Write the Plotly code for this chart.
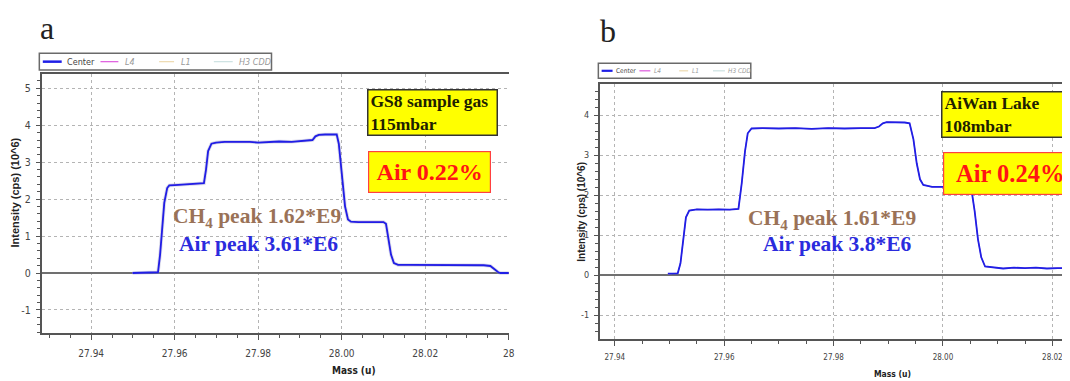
import plotly.graph_objects as go

# The page body adds an 8 px margin, so the figure is drawn 8 px smaller and
# all reference pixel positions are shifted by that offset.
REF_W, REF_H = 1070, 381
OFF = 8
W, H = REF_W - OFF, REF_H - OFF

# ---------------- data ----------------
# Panel a: GS8 sample gas, 115 mbar  (mass in u, intensity in 10^6 cps)
mass_a = [27.9499, 27.9560, 27.9565, 27.9575, 27.9582, 27.9587, 27.9600, 27.9620, 27.9640,
          27.9660, 27.9670, 27.9675, 27.9680, 27.9688, 27.9699, 27.9720, 27.9750, 27.9780,
          27.9800, 27.9820, 27.9850, 27.9880, 27.9910, 27.9930, 27.9937, 27.9945, 27.9960,
          27.9975, 27.9988, 27.9993, 28.0000, 28.0008, 28.0015, 28.0022, 28.0040, 28.0060,
          28.0080, 28.0100, 28.0106, 28.0112, 28.0118, 28.0125, 28.0135, 28.0160, 28.0200,
          28.0250, 28.0300, 28.0340, 28.0356, 28.0365, 28.0375, 28.0380, 28.0400]
center_a = [0.00, 0.02, 0.50, 1.90, 2.30, 2.37, 2.38, 2.39, 2.40,
            2.41, 2.43, 2.80, 3.30, 3.50, 3.53, 3.55, 3.56, 3.55,
            3.53, 3.55, 3.56, 3.55, 3.57, 3.60, 3.70, 3.74, 3.75,
            3.76, 3.75, 3.50, 2.60, 1.80, 1.45, 1.39, 1.38, 1.38,
            1.39, 1.38, 1.33, 0.90, 0.50, 0.27, 0.22, 0.22, 0.22,
            0.21, 0.22, 0.21, 0.19, 0.10, 0.02, 0.00, 0.00]

# Panel b: AiWan Lake, 108 mbar
mass_b = [27.9497, 27.9515, 27.9520, 27.9525, 27.9530, 27.9536, 27.9550, 27.9570, 27.9590,
          27.9610, 27.9626, 27.9632, 27.9638, 27.9643, 27.9650, 27.9670, 27.9700, 27.9730,
          27.9760, 27.9790, 27.9820, 27.9850, 27.9875, 27.9883, 27.9890, 27.9897, 27.9915,
          27.9930, 27.9939, 27.9946, 27.9952, 27.9958, 27.9964, 27.9980, 28.0000, 28.0020,
          28.0040, 28.0052, 28.0058, 28.0064, 28.0070, 28.0077, 28.0090, 28.0110, 28.0130,
          28.0150, 28.0170, 28.0190, 28.0210, 28.0222]
center_b = [0.04, 0.05, 0.30, 0.90, 1.45, 1.62, 1.65, 1.64, 1.65,
            1.64, 1.66, 2.30, 3.10, 3.55, 3.67, 3.68, 3.67, 3.68,
            3.66, 3.68, 3.67, 3.68, 3.68, 3.72, 3.80, 3.83, 3.83,
            3.82, 3.80, 3.40, 2.80, 2.40, 2.26, 2.21, 2.21, 2.20,
            2.20, 2.15, 1.60, 0.90, 0.45, 0.22, 0.20, 0.17, 0.19,
            0.18, 0.19, 0.17, 0.18, 0.18]

series_names = ["Center", "L4", "L1", "H3 CDD"]
series_colors = ["#1f1fe6", "#e066e0", "#eedcb4", "#cfe3e3"]

x_tick_vals_a = [27.94, 27.96, 27.98, 28.00, 28.02, 28.04]
x_tick_text_a = ["27.94", "27.96", "27.98", "28.00", "28.02", "28"]
x_tick_vals_b = [27.94, 27.96, 27.98, 28.00, 28.02]
x_tick_text_b = ["27.94", "27.96", "27.98", "28.00", "28.02"]
y_tick_vals_a = [-1, 0, 1, 2, 3, 4, 5]
y_tick_vals_b = [-1, 0, 1, 2, 3, 4]

labels_a = {"sample": "GS8 sample gas<br>115mbar", "air": "Air 0.22%",
            "ch4": "CH<sub>4</sub> peak 1.62*E9", "airpeak": "Air peak 3.61*E6"}
labels_b = {"sample": "AiWan Lake<br>108mbar", "air": "Air 0.24%",
            "ch4": "CH<sub>4</sub> peak 1.61*E9", "airpeak": "Air peak 3.8*E6"}

# ---------------- helpers ----------------
def px(x):
    return (x - OFF) / W

def py(y):
    return 1 - (y - OFF) / H

SERIF = "Liberation Serif, Times New Roman, serif"
NARROW = "Liberation Sans Narrow, DejaVu Sans Condensed, Liberation Sans, Arial, sans-serif"
SANS = "Liberation Sans, Arial, sans-serif"

fig = go.Figure()

def add_panel(mass, center, xa, ya, halo):
    if halo:
        fig.add_trace(go.Scatter(x=mass, y=center, mode="lines", xaxis=xa, yaxis=ya,
                                 line=dict(color="rgba(150,150,195,0.35)", width=3.5),
                                 showlegend=False, hoverinfo="skip"))
    for name, col in zip(series_names[1:][::-1], series_colors[1:][::-1]):
        fig.add_trace(go.Scatter(x=mass, y=center, mode="lines", name=name, xaxis=xa, yaxis=ya,
                                 line=dict(color=col, width=1), showlegend=False))
    fig.add_trace(go.Scatter(x=mass, y=center, mode="lines", name=series_names[0], xaxis=xa,
                             yaxis=ya, line=dict(color=series_colors[0], width=1.8),
                             showlegend=False))

add_panel(mass_a, center_a, "x", "y", True)
add_panel(mass_b, center_b, "x2", "y2", False)

AX = "#555555"
GRID = "#b4b4b4"

def xaxis_cfg(domain, rng, vals, texts, anchor, size):
    return dict(domain=domain, range=rng, anchor=anchor, tickmode="array", tickvals=vals,
                ticktext=texts, showline=True, linecolor=AX, linewidth=1.5, mirror=True,
                ticks="outside", ticklen=5, tickcolor=AX, tickwidth=1.2,
                ticklabelstandoff=5,
                tickfont=dict(family=NARROW, size=size, color="#444"),
                showgrid=True, gridcolor=GRID, griddash="dot", gridwidth=1, zeroline=False,
                minor=dict(dtick=0.005, tick0=27.94, ticks="outside", ticklen=3,
                           tickcolor=AX, tickwidth=1, showgrid=False))

def yaxis_cfg(domain, rng, vals, anchor, size):
    return dict(domain=domain, range=rng, anchor=anchor, tickmode="array", tickvals=vals,
                ticktext=[str(v) for v in vals], showline=True, linecolor=AX, linewidth=1.5,
                ticks="outside", ticklen=4, tickcolor=AX, tickwidth=1.2,
                ticklabelstandoff=3,
                tickfont=dict(family=NARROW, size=size, color="#444"),
                showgrid=True, gridcolor=GRID, griddash="dot", gridwidth=1,
                zeroline=True, zerolinecolor="#707070", zerolinewidth=1.5,
                minor=dict(dtick=0.2, tick0=0, ticks="outside", ticklen=3,
                           tickcolor=AX, tickwidth=1, showgrid=False))

fig.update_layout(
    width=W, height=H, margin=dict(l=0, r=0, t=0, b=0),
    paper_bgcolor="white", plot_bgcolor="white", showlegend=False,
    xaxis=xaxis_cfg([px(41.7), px(512)], [27.9281, 28.0401], x_tick_vals_a, x_tick_text_a, "y", 10),
    yaxis=yaxis_cfg([py(333.3), py(74)], [-1.632, 5.387], y_tick_vals_a, "x", 10.5),
    xaxis2=xaxis_cfg([px(603), 1.0], [27.93722, 28.02213], x_tick_vals_b, x_tick_text_b, "y2", 8),
    yaxis2=yaxis_cfg([py(339), py(84)], [-1.5925, 4.7825], y_tick_vals_b, "x2", 9),
)

ann = []
shapes = []

def text(t, x, y, size, color, family=SERIF, xanchor="center", yanchor="middle", **kw):
    d = dict(text=t, x=px(x), y=py(y), xref="paper", yref="paper", showarrow=False,
             xanchor=xanchor, yanchor=yanchor, font=dict(family=family, size=size, color=color))
    d.update(kw)
    ann.append(d)

# panel letters
text("a", 47, 28, 32, "#222", borderpad=0)
text("b", 611, 30.5, 32, "#222", borderpad=0)

# axis titles
text("<b>Intensity (cps) (10^6)</b>", 15.5, 192, 11, "#222", family=SANS, textangle=-90)
text("<b>Intensity (cps) (10^6)</b>", 584, 212, 10, "#222", family=SANS, textangle=-90)
text("<b>Mass (u)</b>", 356, 370, 10, "#222", family=NARROW)
text("<b>Mass (u)</b>", 898, 374, 8.5, "#222", family=NARROW)

# sample boxes
text("<b>" + labels_a["sample"] + "</b>", 369.4, 89.3, 17.5, "#202000",
     xanchor="left", yanchor="top", width=124, height=40, borderpad=2, borderwidth=1.5,
     bordercolor="#333", bgcolor="#ffff00", align="left", valign="middle")
text("<b>" + labels_b["sample"] + "</b>", 946.7, 90.7, 17.5, "#202000",
     xanchor="left", yanchor="top", width=150, height=40, borderpad=2, borderwidth=1.5,
     bordercolor="#333", bgcolor="#ffff00", align="left", valign="middle")

# air boxes
text("<b>" + labels_a["air"] + "</b>", 370.4, 150.7, 24, "#ff1414",
     xanchor="left", yanchor="top", width=121, height=40, borderpad=0, borderwidth=1.2,
     bordercolor="#ff4040", bgcolor="#ffff00", align="center", valign="middle")
text("<b>" + labels_b["air"] + "</b>", 948.5, 151.7, 24.5, "#ff1414",
     xanchor="left", yanchor="top", width=132, height=41, borderpad=0, borderwidth=1.2,
     bordercolor="#ff4040", bgcolor="#ffff00", align="center", valign="middle")

# peak texts
text("<b>" + labels_a["ch4"] + "</b>", 258.6, 217.5, 21.5, "#9a7257")
text("<b>" + labels_a["airpeak"] + "</b>", 260.3, 244, 21.5, "#2b2bdd")
text("<b>" + labels_b["ch4"] + "</b>", 837, 219.5, 21.5, "#9a7257")
text("<b>" + labels_b["airpeak"] + "</b>", 842, 244, 21.5, "#2b2bdd")

# manual legends (box + line samples + labels)
def legend(box, items, size, lw_main):
    x0, y0, x1, y1 = box
    shapes.append(dict(type="rect", xref="paper", yref="paper", x0=px(x0), x1=px(x1),
                       y0=py(y1), y1=py(y0), line=dict(color="#6a6a6a", width=1.5),
                       fillcolor="white"))
    yc = (y0 + y1) / 2
    for i, (lx0, lx1, tx) in enumerate(items):
        shapes.append(dict(type="line", xref="paper", yref="paper", x0=px(lx0), x1=px(lx1),
                           y0=py(yc), y1=py(yc),
                           line=dict(color=series_colors[i], width=lw_main if i == 0 else 1.3)))
        name = series_names[i] if i == 0 else "<i>" + series_names[i] + "</i>"
        col = "#444" if i == 0 else "#9a9a9a"
        text(name, tx, yc, size, col, family=NARROW, xanchor="left", borderpad=0)

legend((39.5, 53.3, 273, 70), [(43, 62, 66), (101, 119, 125), (160, 175, 181), (215, 234, 239.5)],
       9, 2.5)
legend((601.7, 63.3, 755, 78.3), [(605, 616, 618.5), (643, 654, 656.5), (683, 692, 694.5),
                                  (717, 729, 731.5)], 6.5, 2.2)

fig.update_layout(annotations=ann, shapes=shapes)

fig.write_html("out.html")
